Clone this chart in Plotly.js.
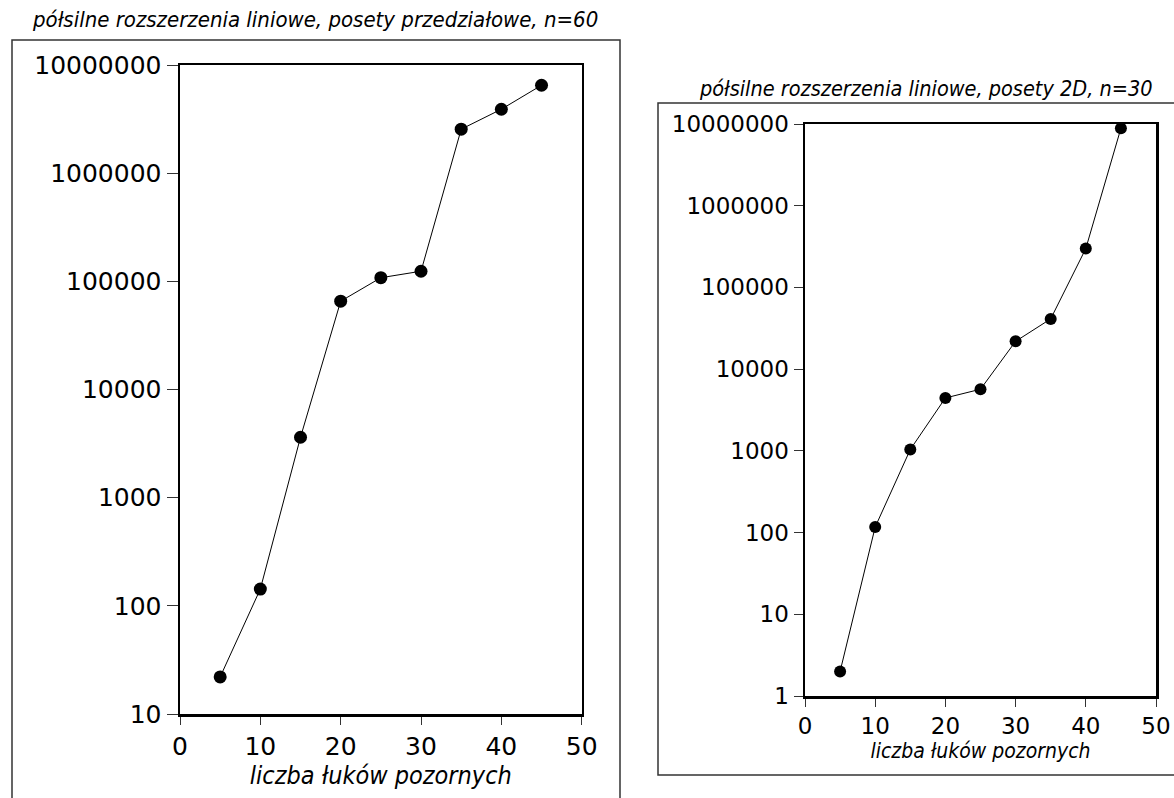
<!DOCTYPE html>
<html>
<head>
<meta charset="utf-8">
<script src="https://cdn.plot.ly/plotly-3.0.1.min.js"></script>
<style>html,body{margin:0;padding:0;background:#fff}#chart{width:1174px;height:798px}</style>
</head>
<body>
<div id="chart"></div>
<script>
// ---- data ----
const arcCounts = [5, 10, 15, 20, 25, 30, 35, 40, 45];
const intervalPosetsN60 = [22, 143, 3620, 65500, 108000, 124000, 2550000, 3900000, 6500000];
const posets2DN30 = [2.0, 117, 1040, 4440, 5680, 21900, 41200, 299000, 8850000];
const xTickVals = [0, 10, 20, 30, 40, 50];
const xTickText = ['0', '10', '20', '30', '40', '50'];
const yTickValsLeft = [10, 100, 1000, 10000, 100000, 1000000, 10000000];
const yTickTextLeft = ['10', '100', '1000', '10000', '100000', '1000000', '10000000'];
const yTickValsRight = [1, 10, 100, 1000, 10000, 100000, 1000000, 10000000];
const yTickTextRight = ['1', '10', '100', '1000', '10000', '100000', '1000000', '10000000'];
const titleLeft = 'półsilne rozszerzenia liniowe, posety przedziałowe, n=60';
const titleRight = 'półsilne rozszerzenia liniowe, posety 2D, n=30';
const xTitle = 'liczba łuków pozornych';

const W = 1174, H = 798;
const px = v => v / W;
const py = v => 1 - v / H;

const FONT = 'DejaVu Sans, Verdana, sans-serif';
const TFONT = 'DejaVu Sans Condensed, DejaVu Sans, sans-serif';

const traces = [
  {x: arcCounts, y: intervalPosetsN60, xaxis: 'x', yaxis: 'y', mode: 'lines+markers',
   line: {color: '#000', width: 1}, marker: {color: '#000', size: 13}, showlegend: false, hoverinfo: 'x+y'},
  {x: arcCounts, y: posets2DN30, xaxis: 'x2', yaxis: 'y2', mode: 'lines+markers',
   line: {color: '#000', width: 1}, marker: {color: '#000', size: 12}, showlegend: false, hoverinfo: 'x+y'}
];

function xAxis(domain, anchor, fs, tfs, standoff) {
  return {domain: domain, anchor: anchor, range: [0, 50], tickvals: xTickVals, ticktext: xTickText,
    showgrid: false, zeroline: false, showline: true, mirror: true, linecolor: '#000', linewidth: 2.5,
    ticks: 'outside', ticklen: 8, tickwidth: 1, tickcolor: '#333',
    tickfont: {family: FONT, size: fs, color: '#000'},
    title: {text: xTitle, font: {family: TFONT, size: tfs, color: '#000', style: 'italic'}, standoff: standoff}};
}
function yAxis(domain, anchor, range, vals, text, fs, tlen) {
  return {domain: domain, anchor: anchor, type: 'log', range: range, tickvals: vals, ticktext: text,
    showgrid: false, zeroline: false, showline: true, mirror: true, linecolor: '#000', linewidth: 2.5,
    ticks: 'outside', ticklen: tlen, tickwidth: 1, tickcolor: '#333',
    tickfont: {family: FONT, size: fs, color: '#000'}};
}

const layout = {
  width: W, height: H,
  margin: {l: 0, r: 0, t: 0, b: 0},
  paper_bgcolor: '#fff', plot_bgcolor: '#fff',
  xaxis: xAxis([px(180), px(581.7)], 'y', 25, 25, 6),
  yaxis: yAxis([py(714), py(65)], 'x', [1, 7], yTickValsLeft, yTickTextLeft, 25, 11),
  xaxis2: xAxis([px(805), px(1156)], 'y2', 23, 21, 4),
  yaxis2: yAxis([py(696), py(124)], 'x2', [0, 7], yTickValsRight, yTickTextRight, 23, 9),
  shapes: [
    {type: 'rect', xref: 'paper', yref: 'paper', x0: px(12), x1: px(620), y0: py(40), y1: py(820),
     line: {color: '#333', width: 1.5}, fillcolor: 'rgba(0,0,0,0)', layer: 'below'},
    {type: 'rect', xref: 'paper', yref: 'paper', x0: px(658), x1: px(1200), y0: py(103), y1: py(775),
     line: {color: '#333', width: 1.5}, fillcolor: 'rgba(0,0,0,0)', layer: 'below'}
  ],
  annotations: [
    {text: titleLeft, xref: 'paper', yref: 'paper', x: px(30), y: py(19), xanchor: 'left', yanchor: 'middle',
     showarrow: false, font: {family: TFONT, size: 22, color: '#000', style: 'italic'}},
    {text: titleRight, xref: 'paper', yref: 'paper', x: px(697), y: py(88), xanchor: 'left', yanchor: 'middle',
     showarrow: false, font: {family: TFONT, size: 21.5, color: '#000', style: 'italic'}}
  ]
};

Plotly.newPlot('chart', traces, layout, {displayModeBar: false, staticPlot: true});
</script>
</body>
</html>
